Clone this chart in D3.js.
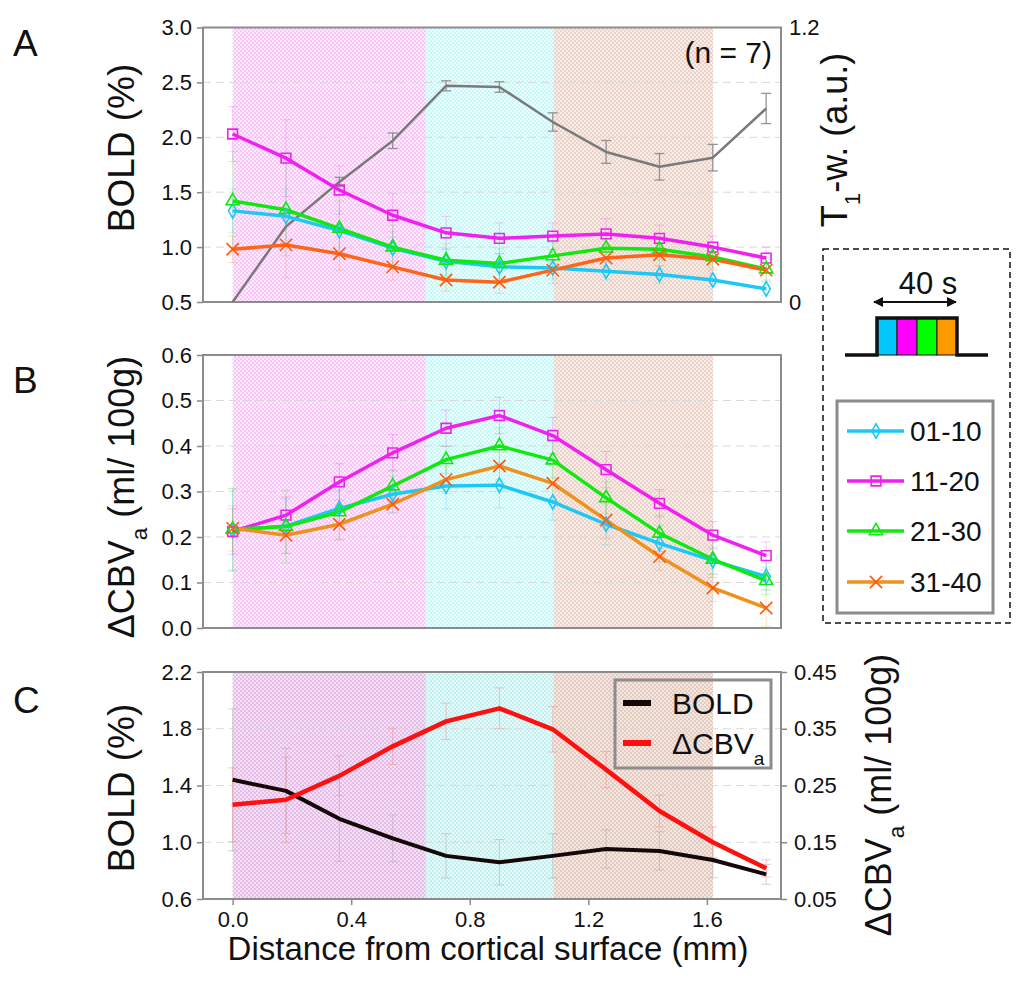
<!DOCTYPE html>
<html>
<head>
<meta charset="utf-8">
<script src="https://cdn.jsdelivr.net/npm/d3@7"></script>
<style>
body { margin: 0; background: #fff; }
svg { font-family: "Liberation Sans", Arial, sans-serif; }
</style>
</head>
<body>
<script>
// depths (mm) and cortical layer edges
const depth = [0, 0.18, 0.36, 0.54, 0.72, 0.9, 1.08, 1.26, 1.44, 1.62, 1.8];
const layerEdges = [0, 0.652, 1.082, 1.621];
const xTicks = [0, 0.4, 0.8, 1.2, 1.6];
const seriesNames = ["01-10", "11-20", "21-30", "31-40"];

// panel A: BOLD (%) per time window
const boldA01 = [1.33, 1.28, 1.15, 0.99, 0.87, 0.82, 0.81, 0.78, 0.75, 0.70, 0.62];
const boldA11 = [2.03, 1.81, 1.52, 1.29, 1.13, 1.08, 1.10, 1.12, 1.08, 1.00, 0.90];
const boldA21 = [1.42, 1.34, 1.17, 1.00, 0.88, 0.85, 0.92, 0.99, 0.98, 0.91, 0.80];
const boldA31 = [0.98, 1.02, 0.94, 0.82, 0.70, 0.68, 0.79, 0.90, 0.93, 0.89, 0.79];
const errA01 = [0.20, 0.25, 0.18, 0.15, 0.12, 0.12, 0.10, 0.08, 0.08, 0.06, 0.06];
const errA11 = [0.25, 0.35, 0.22, 0.20, 0.15, 0.14, 0.12, 0.14, 0.12, 0.10, 0.10];
const errA21 = [0.45, 0.42, 0.25, 0.20, 0.15, 0.14, 0.12, 0.12, 0.10, 0.10, 0.10];
const errA31 = [0.12, 0.30, 0.15, 0.12, 0.10, 0.10, 0.12, 0.12, 0.10, 0.10, 0.10];
// panel A: T1-weighted signal (a.u.)
const t1w = [0.0, 0.33, 0.525, 0.705, 0.945, 0.94, 0.787, 0.656, 0.591, 0.631, 0.846];
const t1wErr = [0.0, 0.0, 0.02, 0.034, 0.022, 0.023, 0.04, 0.05, 0.058, 0.058, 0.066];

// panel B: dCBVa (ml/100g)
const cbvB01 = [0.215, 0.224, 0.263, 0.294, 0.312, 0.314, 0.277, 0.228, 0.186, 0.148, 0.113];
const cbvB11 = [0.212, 0.248, 0.321, 0.385, 0.439, 0.467, 0.423, 0.348, 0.274, 0.204, 0.159];
const cbvB21 = [0.217, 0.223, 0.255, 0.312, 0.370, 0.400, 0.369, 0.286, 0.208, 0.151, 0.104];
const cbvB31 = [0.219, 0.204, 0.228, 0.272, 0.326, 0.356, 0.318, 0.237, 0.157, 0.088, 0.044];
const errB01 = [0.09, 0.06, 0.04, 0.04, 0.05, 0.05, 0.04, 0.045, 0.04, 0.03, 0.03];
const errB11 = [0.05, 0.04, 0.04, 0.04, 0.04, 0.04, 0.04, 0.04, 0.03, 0.03, 0.03];
const errB21 = [0.09, 0.08, 0.06, 0.035, 0.03, 0.04, 0.04, 0.035, 0.04, 0.04, 0.03];
const errB31 = [0.05, 0.04, 0.035, 0.02, 0.03, 0.03, 0.04, 0.04, 0.03, 0.03, 0.04];

// panel C: averaged BOLD and dCBVa
const boldC = [1.44, 1.362, 1.165, 1.028, 0.904, 0.859, 0.904, 0.953, 0.939, 0.875, 0.774];
const boldCErr = [0.5, 0.3, 0.3, 0.165, 0.156, 0.16, 0.156, 0.135, 0.135, 0.125, 0.07];
const cbvC = [0.216, 0.225, 0.267, 0.319, 0.363, 0.386, 0.349, 0.278, 0.205, 0.150, 0.104];
const cbvCErr = [0.065, 0.075, 0.035, 0.032, 0.032, 0.036, 0.04, 0.032, 0.028, 0.027, 0.015];

const W = 1023, H = 996;
const plotLeft = 203, plotRight = 781;

const svg = d3.select("body").append("svg")
    .attr("width", W)
    .attr("height", H);

const defs = svg.append("defs");

// small checker textures for the layer shading
function addPattern(id, base, light) {
    const p = defs.append("pattern")
        .attr("id", id)
        .attr("width", 4)
        .attr("height", 4)
        .attr("patternUnits", "userSpaceOnUse");
    p.append("rect").attr("width", 4).attr("height", 4).attr("fill", base);
    p.append("rect").attr("width", 2).attr("height", 2).attr("fill", light);
    p.append("rect").attr("x", 2).attr("y", 2).attr("width", 2).attr("height", 2).attr("fill", light);
}
addPattern("pinkA", "#f9c6f9", "#feeafe");
addPattern("cyanA", "#c6f8f8", "#ebfdfd");
addPattern("brownA", "#ecd3ca", "#f8ece8");
addPattern("pinkC", "#e6bde8", "#f5e0f6");
addPattern("cyanC", "#c2f0f0", "#e6fafa");
addPattern("brownC", "#e4cbc0", "#f4e6e0");

const x = d3.scaleLinear().domain([-0.1, 1.85]).range([plotLeft, plotRight]);

function styleAxis(g, size) {
    g.select(".domain").remove();
    g.selectAll(".tick line").attr("stroke", "#888").attr("stroke-width", 1.5);
    g.selectAll(".tick text").attr("fill", "#111").style("font-size", size + "px");
}

function drawFrame(top, bottom, y, ticks, fmt, shade) {
    // layer shading
    const fills = ["url(#pink" + shade + ")", "url(#cyan" + shade + ")", "url(#brown" + shade + ")"];
    svg.append("g").selectAll("rect")
        .data(fills)
        .enter()
        .append("rect")
            .attr("x", (d, i) => x(layerEdges[i]))
            .attr("y", top)
            .attr("width", (d, i) => x(layerEdges[i + 1]) - x(layerEdges[i]))
            .attr("height", bottom - top)
            .attr("fill", d => d);

    // dashed grid
    svg.append("g").selectAll("line")
        .data(ticks.slice(1, -1))
        .enter()
        .append("line")
            .attr("x1", plotLeft)
            .attr("x2", plotRight)
            .attr("y1", d => y(d))
            .attr("y2", d => y(d))
            .attr("stroke", "#d9d9d9")
            .attr("stroke-dasharray", "8,5");

    const yAxis = d3.axisLeft(y).tickValues(ticks).tickFormat(fmt).tickSize(6).tickPadding(5);
    svg.append("g")
        .attr("transform", "translate(" + plotLeft + ",0)")
        .call(yAxis)
        .call(g => styleAxis(g, 22));

    svg.append("rect")
        .attr("x", plotLeft)
        .attr("y", top)
        .attr("width", plotRight - plotLeft)
        .attr("height", bottom - top)
        .attr("fill", "none")
        .attr("stroke", "#8c8c8c")
        .attr("stroke-width", 2);
}

function errorBars(y, vals, errs, color, opacity, width) {
    const g = svg.append("g")
        .attr("stroke", color)
        .attr("stroke-opacity", opacity)
        .attr("stroke-width", width);
    depth.forEach((d, i) => {
        if (!errs[i]) return;
        const cx = x(d);
        const y0 = y(vals[i] - errs[i]);
        const y1 = y(vals[i] + errs[i]);
        g.append("line").attr("x1", cx).attr("x2", cx).attr("y1", y0).attr("y2", y1);
        g.append("line").attr("x1", cx - 5).attr("x2", cx + 5).attr("y1", y0).attr("y2", y0);
        g.append("line").attr("x1", cx - 5).attr("x2", cx + 5).attr("y1", y1).attr("y2", y1);
    });
}

function drawLine(y, vals, color, width) {
    const line = d3.line().x((d, i) => x(depth[i])).y(d => y(d));
    svg.append("path")
        .datum(vals)
        .attr("d", line)
        .attr("fill", "none")
        .attr("stroke", color)
        .attr("stroke-width", width)
        .attr("stroke-linejoin", "round");
}

const markerTypes = [
    d3.symbol().type(d3.symbolDiamond).size(60),
    d3.symbol().type(d3.symbolSquare).size(95),
    d3.symbol().type(d3.symbolTriangle).size(75),
    d3.symbol().type(d3.symbolX).size(100)
];
const markerColors = ["#1ec8f4", "#f020f0", "#10e810", "#ff5a10"];

function drawMarkers(y, vals, k) {
    svg.append("g").selectAll("path")
        .data(vals)
        .enter()
        .append("path")
            .attr("transform", (d, i) => "translate(" + x(depth[i]) + "," + y(d) + ")")
            .attr("d", markerTypes[k]())
            .attr("fill", "none")
            .attr("stroke", markerColors[k])
            .attr("stroke-width", 1.6);
}

function rotatedLabel(cx, cy, parts, size) {
    const t = svg.append("text")
        .attr("transform", "translate(" + cx + "," + cy + ") rotate(-90)")
        .attr("text-anchor", "middle")
        .attr("fill", "#111")
        .style("font-size", size + "px");
    parts.forEach(p => {
        const s = t.append("tspan").text(p[0]);
        if (p[1]) s.attr("baseline-shift", "sub").style("font-size", (size * 0.62) + "px");
    });
}

function panelLetter(txt, yb) {
    svg.append("text")
        .attr("x", 13)
        .attr("y", yb)
        .attr("fill", "#111")
        .style("font-size", "37px")
        .text(txt);
}

// ---------- panel A ----------
const aTop = 27.5, aBottom = 302;
const yA = d3.scaleLinear().domain([0.5, 3.0]).range([aBottom, aTop]);
const yAR = d3.scaleLinear().domain([0, 1.2]).range([aBottom, aTop]);
drawFrame(aTop, aBottom, yA, [0.5, 1.0, 1.5, 2.0, 2.5, 3.0], d3.format(".1f"), "A");

const seriesA = [boldA01, boldA11, boldA21, boldA31];
const errsA = [errA01, errA11, errA21, errA31];
const lineColorsA = ["#1ec8f4", "#f020f0", "#10e810", "#ff6418"];
seriesA.forEach((s, k) => errorBars(yA, s, errsA[k], lineColorsA[k], 0.22, 1));
errorBars(yAR, t1w, t1wErr, "#8a8a8a", 0.9, 1.3);
drawLine(yAR, t1w, "#7a7a7a", 2.5);
seriesA.forEach((s, k) => drawLine(yA, s, lineColorsA[k], 3.5));
seriesA.forEach((s, k) => drawMarkers(yA, s, k));

const yARAxis = d3.axisRight(yAR).tickValues([0, 1.2])
    .tickFormat(d => d === 0 ? "0" : d3.format(".1f")(d)).tickSize(0).tickPadding(8);
svg.append("g")
    .attr("transform", "translate(" + plotRight + ",0)")
    .call(yARAxis)
    .call(g => styleAxis(g, 22));

svg.append("text")
    .attr("x", 772)
    .attr("y", 63)
    .attr("text-anchor", "end")
    .attr("fill", "#111")
    .style("font-size", "30px")
    .text("(n = 7)");

panelLetter("A", 56);
rotatedLabel(134, 148, [["BOLD (%)"]], 37);
rotatedLabel(847, 140, [["T"], ["1", true], ["-w. (a.u.)"]], 36);

// ---------- panel B ----------
const bTop = 355, bBottom = 628;
const yB = d3.scaleLinear().domain([0, 0.6]).range([bBottom, bTop]);
drawFrame(bTop, bBottom, yB, [0, 0.1, 0.2, 0.3, 0.4, 0.5, 0.6], d3.format(".1f"), "A");

const seriesB = [cbvB01, cbvB11, cbvB21, cbvB31];
const errsB = [errB01, errB11, errB21, errB31];
const lineColorsB = ["#1ec8f4", "#f020f0", "#10e810", "#ee921e"];
seriesB.forEach((s, k) => errorBars(yB, s, errsB[k], lineColorsB[k], 0.25, 1));
seriesB.forEach((s, k) => drawLine(yB, s, lineColorsB[k], 3.5));
seriesB.forEach((s, k) => drawMarkers(yB, s, k));

panelLetter("B", 393);
rotatedLabel(134, 497, [["\u0394CBV"], ["a", true], [" (ml/ 100g)"]], 36);

// ---------- panel C ----------
const cTop = 672, cBottom = 899;
const yC = d3.scaleLinear().domain([0.6, 2.2]).range([cBottom, cTop]);
const yCR = d3.scaleLinear().domain([0.05, 0.45]).range([cBottom, cTop]);
drawFrame(cTop, cBottom, yC, [0.6, 1.0, 1.4, 1.8, 2.2], d3.format(".1f"), "C");

errorBars(yC, boldC, boldCErr, "#b0b0b0", 0.55, 1);
errorBars(yCR, cbvC, cbvCErr, "#ff8080", 0.45, 1);
drawLine(yC, boldC, "#140808", 4);
drawLine(yCR, cbvC, "#ff1010", 4.5);

const yCRAxis = d3.axisRight(yCR).tickValues([0.05, 0.15, 0.25, 0.35, 0.45])
    .tickFormat(d3.format(".2f")).tickSize(6).tickPadding(7);
svg.append("g")
    .attr("transform", "translate(" + plotRight + ",0)")
    .call(yCRAxis)
    .call(g => styleAxis(g, 22));

const xAxis = d3.axisBottom(x).tickValues(xTicks).tickFormat(d3.format(".1f")).tickSize(6).tickPadding(6);
svg.append("g")
    .attr("transform", "translate(0," + cBottom + ")")
    .call(xAxis)
    .call(g => styleAxis(g, 22));

// legend C
const legC = svg.append("g");
legC.append("rect")
    .attr("x", 615).attr("y", 680).attr("width", 156).attr("height", 88)
    .attr("fill", "none").attr("stroke", "#8c8c8c").attr("stroke-width", 3);
[["BOLD", "#140808", 703], ["\u0394CBV", "#ff1010", 743]].forEach(e => {
    legC.append("line")
        .attr("x1", 623).attr("x2", 651).attr("y1", e[2]).attr("y2", e[2])
        .attr("stroke", e[1]).attr("stroke-width", 6);
    const t = legC.append("text")
        .attr("x", 672).attr("y", e[2] + 11)
        .attr("fill", "#111")
        .style("font-size", "30px")
        .text(e[0]);
    if (e[0] !== "BOLD") {
        t.append("tspan").attr("baseline-shift", "sub").style("font-size", "19px").text("a");
    }
});

panelLetter("C", 713);
rotatedLabel(134, 788, [["BOLD (%)"]], 37);
rotatedLabel(891, 795, [["\u0394CBV"], ["a", true], [" (ml/ 100g)"]], 36);

svg.append("text")
    .attr("x", 488)
    .attr("y", 960)
    .attr("text-anchor", "middle")
    .attr("fill", "#111")
    .style("font-size", "33px")
    .text("Distance from cortical surface (mm)");

// ---------- stimulus & legend box ----------
svg.append("rect")
    .attr("x", 823).attr("y", 249).attr("width", 187).attr("height", 374)
    .attr("fill", "none").attr("stroke", "#111")
    .attr("stroke-width", 1.5).attr("stroke-dasharray", "6,4");

svg.append("text")
    .attr("x", 928).attr("y", 294)
    .attr("text-anchor", "middle")
    .attr("fill", "#111")
    .style("font-size", "31px")
    .text("40 s");

defs.append("marker")
    .attr("id", "arrowHead")
    .attr("viewBox", "0 0 10 10")
    .attr("refX", 9).attr("refY", 5)
    .attr("markerWidth", 5).attr("markerHeight", 5)
    .attr("orient", "auto-start-reverse")
    .append("path").attr("d", "M0,0 L10,5 L0,10 z").attr("fill", "#111");
svg.append("line")
    .attr("x1", 874).attr("x2", 956).attr("y1", 302).attr("y2", 302)
    .attr("stroke", "#111").attr("stroke-width", 2)
    .attr("marker-start", "url(#arrowHead)")
    .attr("marker-end", "url(#arrowHead)");

const blockColors = ["#00c8f8", "#ff00ff", "#00ff00", "#ff9900"];
const blockX = d3.scaleBand().domain(seriesNames).range([877, 957]);
svg.append("g").selectAll("rect")
    .data(seriesNames)
    .enter()
    .append("rect")
        .attr("x", d => blockX(d))
        .attr("y", 318)
        .attr("width", blockX.bandwidth())
        .attr("height", 37)
        .attr("fill", (d, i) => blockColors[i])
        .attr("stroke", "#111")
        .attr("stroke-width", 1);
svg.append("path")
    .attr("d", "M845,355 H877 V318 H957 V355 H988")
    .attr("fill", "none")
    .attr("stroke", "#111")
    .attr("stroke-width", 3.5);

svg.append("rect")
    .attr("x", 837).attr("y", 401).attr("width", 156).attr("height", 212)
    .attr("fill", "none").attr("stroke", "#8c8c8c").attr("stroke-width", 3);

const legendLineColors = ["#1ec8f4", "#f020f0", "#10e810", "#f0901e"];
const legendY = [431, 481, 531, 582];
seriesNames.forEach((name, k) => {
    svg.append("line")
        .attr("x1", 847).attr("x2", 904)
        .attr("y1", legendY[k]).attr("y2", legendY[k])
        .attr("stroke", legendLineColors[k]).attr("stroke-width", 3.5);
    svg.append("path")
        .attr("transform", "translate(876," + legendY[k] + ")")
        .attr("d", markerTypes[k]())
        .attr("fill", "none")
        .attr("stroke", markerColors[k])
        .attr("stroke-width", 1.6);
    svg.append("text")
        .attr("x", 910).attr("y", legendY[k] + 10)
        .attr("fill", "#111")
        .style("font-size", "28px")
        .text(name);
});
</script>
</body>
</html>
